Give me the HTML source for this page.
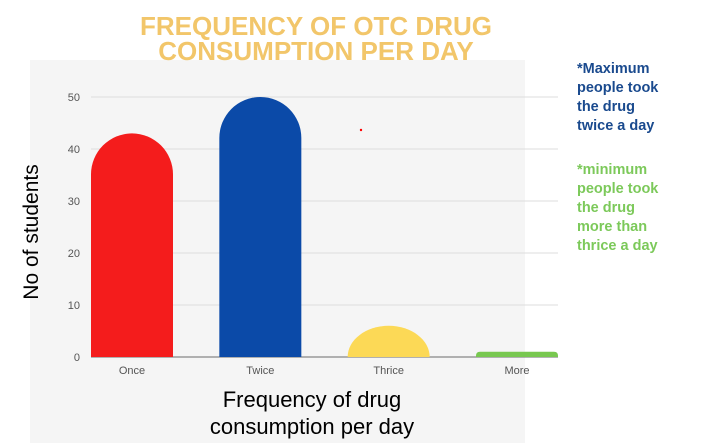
<!DOCTYPE html>
<html><head><meta charset="utf-8"><style>
body{margin:0;width:701px;height:443px;background:#fff;overflow:hidden;font-family:"Liberation Sans",sans-serif}
</style></head><body>
<svg width="701" height="443" xmlns="http://www.w3.org/2000/svg">
<rect x="30" y="60" width="495" height="383" fill="#f5f5f5"/>
<g id="grid"></g>
<g id="bars"></g>
<g id="labels"></g>
<text x="316" y="35" text-anchor="middle" font-size="26" font-weight="bold" fill="#f2c66a">FREQUENCY OF OTC DRUG</text>
<text x="316" y="60" text-anchor="middle" font-size="26" font-weight="bold" fill="#f2c66a">CONSUMPTION PER DAY</text>
<text transform="translate(38,232) rotate(-90)" text-anchor="middle" font-size="21" fill="#000">No of students</text>
<text x="312" y="407" text-anchor="middle" font-size="22" fill="#000">Frequency of drug</text>
<text x="312" y="434" text-anchor="middle" font-size="22" fill="#000">consumption per day</text>
<g font-size="14.5" font-weight="bold" fill="#1a4a8e">
<text x="577" y="73">*Maximum</text><text x="577" y="92">people took</text><text x="577" y="111">the drug</text><text x="577" y="130">twice a day</text></g>
<g font-size="14.5" font-weight="bold" fill="#7cc95a">
<text x="577" y="174">*minimum</text><text x="577" y="193">people took</text><text x="577" y="212">the drug</text><text x="577" y="231">more than</text><text x="577" y="250">thrice a day</text></g>
<circle cx="361" cy="130" r="1.2" fill="red"/>
</svg>
<script>
const categories=["Once","Twice","Thrice","More"];
const values=[43,50,6,1];
const colors=["#f41c1c","#0b4aa8","#fcd956","#78c850"];
const yTicks=[0,10,20,30,40,50];
const ns="http://www.w3.org/2000/svg";
const x0=91,x1=558,yBase=357,yTop=97,yMax=50;
const y=v=>yBase-(yBase-yTop)*v/yMax;
const bw=82, stride=(x1-x0-bw)/(categories.length-1);
const xc=i=>x0+stride*i;
const g=document.getElementById('grid'),b=document.getElementById('bars'),l=document.getElementById('labels');
yTicks.forEach(t=>{
 const ln=document.createElementNS(ns,'line');
 ln.setAttribute('x1',x0);ln.setAttribute('x2',x1);ln.setAttribute('y1',y(t));ln.setAttribute('y2',y(t));
 ln.setAttribute('stroke',t===0?'#888':'#ddd');ln.setAttribute('stroke-width',t===0?1.2:1);
 
 
 g.appendChild(ln);
 const tx=document.createElementNS(ns,'text');
 tx.setAttribute('x',80);tx.setAttribute('y',y(t)+4);tx.setAttribute('text-anchor','end');
 tx.setAttribute('font-size','11');tx.setAttribute('fill','#555');tx.textContent=t;
 
 
 l.appendChild(tx);
});
categories.forEach((c,i)=>{
 const x=xc(i),h=yBase-y(values[i]),r=bw/2;
 let d;
 if(h<12){const rr=Math.min(4,h);d=`M${x},${yBase}V${yBase-h+rr}Q${x},${yBase-h} ${x+rr},${yBase-h}H${x+bw-rr}Q${x+bw},${yBase-h} ${x+bw},${yBase-h+rr}V${yBase}Z`;}
 else{const ry=Math.min(r,h);d=`M${x},${yBase}V${yBase-h+ry}A${r},${ry} 0 0 1 ${x+bw},${yBase-h+ry}V${yBase}Z`;}
 const p=document.createElementNS(ns,'path');
 p.setAttribute('d',d);
 p.setAttribute('fill',colors[i]);
 
 
 b.appendChild(p);
 const tx=document.createElementNS(ns,'text');
 tx.setAttribute('x',x+bw/2);tx.setAttribute('y',374);tx.setAttribute('text-anchor','middle');
 tx.setAttribute('font-size','11');tx.setAttribute('fill','#555');tx.textContent=c;
 
 
 l.appendChild(tx);
});
</script>
</body></html>
